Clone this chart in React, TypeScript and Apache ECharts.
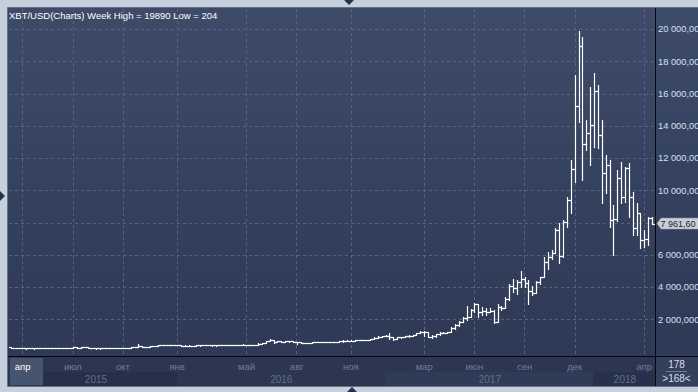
import React, { useEffect, useRef } from 'react';
import * as echarts from 'echarts';

// Weekly OHLC (XBT/USD)
const opens = [
  285, 260, 247, 254, 236, 222, 219, 240, 240, 236,
  240, 230, 225, 233, 245, 250, 258, 290, 275, 290,
  281, 265, 257, 232, 229, 240, 230, 231, 233, 238,
  247, 262, 283, 325, 374, 330, 323, 360, 390, 435,
  440, 420, 430, 433, 448, 382, 402, 378, 376, 407,
  438, 432, 425, 410, 412, 410, 417, 420, 421, 429,
  459, 451, 459, 457, 441, 526, 575, 667, 760, 627,
  703, 650, 678, 658, 624, 590, 570, 581, 572, 608,
  605, 609, 600, 613, 617, 640, 655, 700, 705, 700,
  730, 732, 765, 770, 790, 890, 960, 998, 1020, 905,
  820, 920, 915, 1015, 1000, 1050, 1170, 1270, 1230, 960,
  965, 1090, 1180, 1180, 1240, 1500, 1650, 1839, 2088, 2191,
  2604, 2976, 2501, 2542, 2500, 2520, 1881, 2811, 2707, 3265,
  4092, 3947, 4361, 4505, 4300, 3802, 3679, 4361, 4629, 5601,
  5870, 6150, 7564, 5952, 8081, 9424, 11325, 15252, 18972, 12896,
  13559, 14074, 16182, 13454, 11079, 11600, 8184, 8226, 10769, 9590,
  11400, 9590, 7667, 8637, 6944, 6987, 8289,
];
const highs = [
  293, 270, 260, 259, 237, 238, 243, 247, 244, 242,
  241, 231, 236, 252, 250, 260, 310, 315, 295, 298,
  285, 270, 262, 235, 240, 245, 234, 237, 240, 250,
  268, 290, 330, 495, 385, 340, 370, 395, 445, 465,
  460, 432, 435, 460, 450, 410, 405, 390, 410, 440,
  445, 440, 430, 420, 418, 420, 422, 425, 430, 462,
  468, 462, 462, 458, 530, 585, 700, 780, 765, 705,
  705, 680, 680, 660, 630, 600, 585, 585, 610, 630,
  612, 610, 615, 620, 642, 660, 715, 740, 720, 750,
  745, 770, 775, 795, 900, 980, 1000, 1040, 1150, 910,
  925, 925, 1020, 1065, 1060, 1200, 1290, 1330, 1250, 1060,
  1100, 1210, 1215, 1250, 1570, 1736, 1943, 2191, 2852, 2645,
  3017, 2976, 2811, 2707, 2707, 2604, 2976, 2852, 3390, 4216,
  4505, 4464, 5043, 4670, 4464, 4092, 4423, 4670, 5909, 6221,
  6324, 7667, 7977, 8184, 9631, 11904, 17174, 19890, 19550, 14384,
  16449, 17279, 16554, 14384, 12214, 11904, 9114, 11284, 11800, 11490,
  11697, 9937, 9219, 8637, 7564, 8390, 8390,
];
const lows = [
  255, 236, 240, 233, 216, 218, 217, 232, 233, 232,
  228, 220, 225, 233, 240, 248, 258, 272, 274, 280,
  260, 255, 204, 205, 225, 228, 225, 226, 232, 235,
  245, 262, 282, 320, 305, 310, 315, 355, 385, 430,
  415, 415, 425, 425, 360, 365, 365, 365, 370, 400,
  412, 420, 400, 400, 405, 405, 412, 415, 418, 428,
  445, 445, 448, 436, 438, 525, 570, 660, 550, 620,
  620, 645, 650, 620, 480, 570, 565, 565, 570, 600,
  602, 592, 598, 608, 615, 630, 650, 680, 695, 690,
  725, 728, 755, 765, 788, 880, 950, 990, 780, 750,
  810, 885, 910, 940, 980, 1045, 1150, 975, 940, 890,
  960, 1080, 1150, 1170, 1230, 1426, 1633, 1830, 1984, 2180,
  2450, 2191, 2294, 2300, 2480, 1777, 1881, 2604, 2707, 3224,
  3741, 3600, 4051, 4000, 2976, 3534, 3679, 4216, 4629, 5125,
  5750, 6117, 5497, 5909, 7770, 8598, 10560, 14279, 10664, 12524,
  11594, 12729, 12629, 9219, 9877, 7770, 5995, 8100, 9258, 9320,
  8350, 7254, 7254, 6428, 6490, 6634, 7936,
];
const closes = [
  260, 247, 254, 236, 222, 219, 240, 240, 236, 240,
  230, 225, 233, 245, 250, 258, 290, 275, 290, 281,
  265, 257, 232, 229, 240, 230, 231, 233, 238, 247,
  262, 283, 325, 374, 330, 323, 360, 390, 435, 440,
  420, 430, 433, 448, 382, 402, 378, 376, 407, 438,
  432, 425, 410, 412, 410, 417, 420, 421, 429, 459,
  451, 459, 457, 441, 526, 575, 667, 760, 627, 703,
  650, 678, 658, 624, 590, 570, 581, 572, 608, 605,
  609, 600, 613, 617, 640, 655, 700, 705, 700, 730,
  732, 765, 770, 790, 890, 960, 998, 1020, 905, 820,
  920, 915, 1015, 1000, 1050, 1170, 1270, 1230, 960, 965,
  1090, 1180, 1180, 1240, 1500, 1650, 1839, 2088, 2191, 2604,
  2976, 2501, 2542, 2500, 2520, 1881, 2811, 2707, 3265, 4092,
  3947, 4361, 4505, 4300, 3802, 3679, 4361, 4629, 5601, 5870,
  6150, 7564, 5952, 8081, 9424, 11325, 15252, 18972, 12896, 13559,
  14074, 16182, 13454, 11079, 11600, 8184, 8226, 10769, 9590, 11400,
  9590, 7667, 8637, 6944, 6987, 8289, 7961.6,
];

// Axis ticks
const monthTickIndex = [3, 16, 29, 43, 61, 74, 88, 107, 120, 133, 146, 164];
const monthTickLabel = ['апр', 'июл', 'окт', 'янв', 'май', 'авг', 'ноя', 'мар', 'июн', 'сен', 'дек', 'апр'];
const yearTickIndex = [22, 70, 124, 159];
const yearTickLabel = ['2015', '2016', '2017', '2018'];
const highlightedMonth = 0;

const titleText = 'XBT/USD(Charts) Week High = 19890 Low = 204';
const totalBars = 178;
const visibleBars = 168;

function fmtNum(v: number, dec: number): string {
  const s = Math.abs(v).toFixed(dec);
  const [int, frac] = s.split('.');
  return int.replace(/\B(?=(\d{3})+(?!\d))/g, ' ') + (frac ? ',' + frac : '');
}

export default function App() {
  const ref = useRef<HTMLDivElement>(null);

  useEffect(() => {
    const chart = echarts.init(ref.current as HTMLDivElement, null, {
      renderer: 'svg',
      width: 698,
      height: 392,
    });
    const font = 'Liberation Sans';
    const last = closes.length - 1;
    const lastClose = closes[last];
    const cats = opens.map((_, i) => String(i));
    const data = opens.map((o, i) => [i, o, highs[i], lows[i], closes[i]]);
    const gridColor = '#56647f';

    const renderItem = (params: any, api: any) => {
      const i = api.value(0);
      const yOf = (v: number) => api.coord([i, v])[1];
      const x = api.coord([i, api.value(2)])[0];
      const yh = yOf(api.value(2));
      const yl = yOf(api.value(3));
      const yo = yOf(api.value(1));
      const yc = yOf(api.value(4));
      const xs = Math.round(x) + 0.5;
      const st = { stroke: '#ffffff', lineWidth: 1.2 };
      const ro = Math.round(yo) + 0.5;
      const rc = Math.round(yc) + 0.5;
      const top = Math.round(yh);
      const bot = Math.max(Math.round(yl) + 1, top + 1);
      const children: any[] = [
        { type: 'line', shape: { x1: xs, y1: top, x2: xs, y2: bot }, style: st },
        { type: 'line', shape: { x1: xs - 2.5, y1: ro, x2: xs, y2: ro }, style: st },
        { type: 'line', shape: { x1: xs, y1: rc, x2: xs + 2.5, y2: rc }, style: st },
      ];
      if (params.dataIndex === last) {
        const cs = params.coordSys;
        const tx = cs.x + cs.width + 5;
        const ty = yc;
        children.push({
          type: 'polygon',
          shape: { points: [[tx, ty], [tx + 4, ty - 5.5], [702, ty - 5.5], [702, ty + 5.5], [tx + 4, ty + 5.5]] },
          style: { fill: '#c9ced7', stroke: '#8a94a6', lineWidth: 0.6 },
          z2: 50,
        });
        children.push({
          type: 'text',
          style: {
            text: fmtNum(api.value(4), 2),
            x: tx + 3.5,
            y: ty + 0.5,
            fill: '#1b2334',
            font: `9px "${font}"`,
            align: 'left',
            verticalAlign: 'middle',
          },
          z2: 51,
        });
      }
      return { type: 'group', children };
    };

    chart.setOption({
      animation: false,
      title: {
        text: titleText,
        left: 9,
        top: 10,
        padding: 0,
        textStyle: { color: '#ffffff', fontSize: 9.5, fontWeight: 'normal', fontFamily: font },
      },
      grid: [
        { left: 9, top: 9, right: 43, bottom: 40, containLabel: false, outerBoundsMode: 'none' },
        { left: 11, top: 9, right: 46, bottom: 36, containLabel: false, outerBoundsMode: 'none' },
      ],
      xAxis: [
        { type: 'value', gridIndex: 0, show: false, min: 0, max: 1 },
        {
          type: 'category',
          gridIndex: 1,
          position: 'bottom',
          data: cats,
          boundaryGap: false,
          axisLine: { show: false },
          axisTick: { show: false },
          axisLabel: {
            interval: (idx: number) => monthTickIndex.indexOf(idx) >= 0,
            formatter: (_v: string, idx: number) => {
              const k = monthTickIndex.indexOf(idx);
              if (k < 0) return '';
              return k === highlightedMonth ? `{hl|${monthTickLabel[k]}}` : monthTickLabel[k];
            },
            color: '#6d7d9a',
            fontSize: 9.5,
            fontFamily: font,
            margin: 5,
            rich: { hl: { color: '#ffffff', fontSize: 9.5, fontFamily: font } },
          },
          splitLine: {
            show: true,
            interval: (idx: number) => monthTickIndex.indexOf(idx) >= 0,
            lineStyle: { color: gridColor, type: [3, 3], width: 1 },
          },
        },
        {
          type: 'category',
          gridIndex: 1,
          position: 'bottom',
          data: cats,
          boundaryGap: false,
          axisLine: { show: false },
          axisTick: { show: false },
          splitLine: { show: false },
          axisLabel: {
            interval: (idx: number) => yearTickIndex.indexOf(idx) >= 0,
            formatter: (_v: string, idx: number) => {
              const k = yearTickIndex.indexOf(idx);
              return k < 0 ? '' : yearTickLabel[k];
            },
            color: '#5f6e8b',
            fontSize: 10,
            fontFamily: font,
            margin: 18,
          },
        },
      ],
      yAxis: [
        {
          type: 'value',
          gridIndex: 0,
          position: 'right',
          min: 0,
          max: 21266,
          interval: 2000,
          axisLine: { show: false },
          axisTick: { show: false },
          axisLabel: {
            color: '#d3e0f5',
            fontSize: 9.3,
            fontFamily: font,
            margin: 3,
            // the last-price tag covers the label it sits on
            formatter: (v: number) =>
              v === 0 || v % 2000 !== 0 || Math.abs(v - lastClose) < 500 ? '' : fmtNum(v, 3),
          },
          splitLine: {
            show: true,
            showMinLine: false,
            showMaxLine: false,
            lineStyle: { color: gridColor, type: [3, 3], width: 1 },
          },
        },
        { type: 'value', gridIndex: 1, min: -248, max: 21266, show: false },
      ],
      graphic: {
        elements: [
          { type: 'rect', shape: { x: 7.5, y: 7.5, width: 700, height: 379 }, style: { fill: '#2c3651', stroke: '#66728a', lineWidth: 1 }, z: -30 },
          {
            type: 'rect',
            shape: { x: 8, y: 8, width: 690, height: 348 },
            style: {
              fill: new echarts.graphic.LinearGradient(0, 0, 0, 1, [
                { offset: 0, color: '#3d4b69' },
                { offset: 1, color: '#2d3955' },
              ]),
            },
            z: -20,
          },
          { type: 'rect', shape: { x: 43, y: 372, width: 134, height: 14 }, style: { fill: '#27304a' }, z: -20 },
          { type: 'rect', shape: { x: 385, y: 372, width: 208, height: 14 }, style: { fill: '#303b57' }, z: -20 },
          { type: 'rect', shape: { x: 593, y: 372, width: 62, height: 14 }, style: { fill: '#28314b' }, z: -20 },
          { type: 'rect', shape: { x: 10, y: 358, width: 33, height: 27 }, style: { fill: '#47546f' }, z: -15 },
          { type: 'rect', shape: { x: 656, y: 357, width: 42, height: 29 }, style: { fill: '#34405b' }, z: -15 },
          { type: 'line', shape: { x1: 8, y1: 356.5, x2: 698, y2: 356.5 }, style: { stroke: '#05070c', lineWidth: 1 }, z: 20 },
          { type: 'line', shape: { x1: 655.5, y1: 8, x2: 655.5, y2: 386 }, style: { stroke: '#05070c', lineWidth: 1 }, z: 20 },
          {
            type: 'text',
            style: { text: String(totalBars), x: 676.5, y: 364.5, fill: '#d6dfeb', font: `10px "${font}"`, align: 'center', verticalAlign: 'middle' },
            z: 30,
          },
          { type: 'line', shape: { x1: 666, y1: 371.5, x2: 687, y2: 371.5 }, style: { stroke: '#6f7c95', lineWidth: 1 }, z: 30 },
          {
            type: 'text',
            style: { text: `>${visibleBars}<`, x: 676.5, y: 378.5, fill: '#d6dfeb', font: `10px "${font}"`, align: 'center', verticalAlign: 'middle' },
            z: 30,
          },
          { type: 'polygon', shape: { points: [[344, 0], [354, 0], [349, 5]] }, style: { fill: '#25304a' }, z: 30 },
          { type: 'polygon', shape: { points: [[347, 392], [357, 392], [352, 387]] }, style: { fill: '#25304a' }, z: 30 },
          { type: 'polygon', shape: { points: [[0, 191], [0, 201], [5, 196]] }, style: { fill: '#25304a' }, z: 30 },
        ],
      },
      series: [
        {
          type: 'custom',
          xAxisIndex: 1,
          yAxisIndex: 1,
          clip: false,
          data,
          encode: { x: 0, y: [1, 2, 3, 4] },
          renderItem,
          z: 10,
        },
      ],
    });
    return () => chart.dispose();
  }, []);

  return (
    <div
      ref={ref}
      style={{ position: 'fixed', left: 0, top: 0, width: 698, height: 392, background: '#c6d0dd' }}
    />
  );
}
